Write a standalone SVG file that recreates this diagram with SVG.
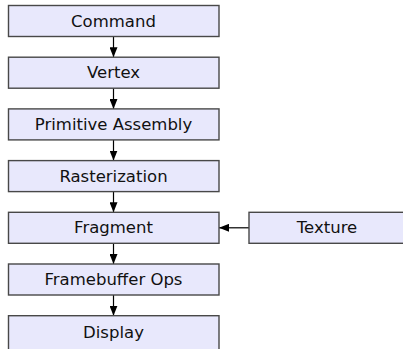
<svg xmlns="http://www.w3.org/2000/svg" width="403" height="349" viewBox="0 0 403 349">
  <defs>
    <marker id="head" viewBox="0 0 10 8" refX="10" refY="4" markerWidth="10" markerHeight="8" markerUnits="userSpaceOnUse" orient="auto">
      <path d="M0,0 L10,4 L0,8 Z" fill="#000"/>
    </marker>
    <style>
      .box { fill: #e8e8fc; stroke: #484848; stroke-width: 1.4; }
      .lbl { font-family: "DejaVu Sans", sans-serif; font-size: 16.5px; fill: #111; text-anchor: middle; dominant-baseline: central; }
      .edge { stroke: #000; stroke-width: 1.2; fill: none; marker-end: url(#head); }
    </style>
  </defs>
  <rect width="403" height="349" fill="#fff"/>

  <g id="connectors">
    <line class="edge" x1="113.5" y1="36.5" x2="113.5" y2="57.2"/>
    <line class="edge" x1="113.5" y1="88.2" x2="113.5" y2="108.9"/>
    <line class="edge" x1="113.5" y1="139.9" x2="113.5" y2="160.6"/>
    <line class="edge" x1="113.5" y1="191.6" x2="113.5" y2="212.3"/>
    <line class="edge" x1="113.5" y1="243.3" x2="113.5" y2="264"/>
    <line class="edge" x1="113.5" y1="295" x2="113.5" y2="315.7"/>
    <line class="edge" x1="249" y1="227.8" x2="219" y2="227.8"/>
  </g>

  <g id="command"><rect class="box" x="8.5" y="5.5" width="210.5" height="31"/><text class="lbl" x="113.5" y="21">Command</text></g>
  <g id="vertex"><rect class="box" x="8.5" y="57.2" width="210.5" height="31"/><text class="lbl" x="113.5" y="72.7">Vertex</text></g>
  <g id="primitive-assembly"><rect class="box" x="8.5" y="108.9" width="210.5" height="31"/><text class="lbl" x="113.5" y="124.4">Primitive Assembly</text></g>
  <g id="rasterization"><rect class="box" x="8.5" y="160.6" width="210.5" height="31"/><text class="lbl" x="113.5" y="176.1">Rasterization</text></g>
  <g id="fragment"><rect class="box" x="8.5" y="212.3" width="210.5" height="31"/><text class="lbl" x="113.5" y="227.8">Fragment</text></g>
  <g id="texture"><rect class="box" x="249" y="212.3" width="156" height="31"/><text class="lbl" x="327" y="227.8">Texture</text></g>
  <g id="framebuffer-ops"><rect class="box" x="8.5" y="264" width="210.5" height="31"/><text class="lbl" x="113.5" y="279.5">Framebuffer Ops</text></g>
  <g id="display"><rect class="box" x="8.5" y="315.7" width="210.5" height="40"/><text class="lbl" x="113.5" y="332.5">Display</text></g>
</svg>
